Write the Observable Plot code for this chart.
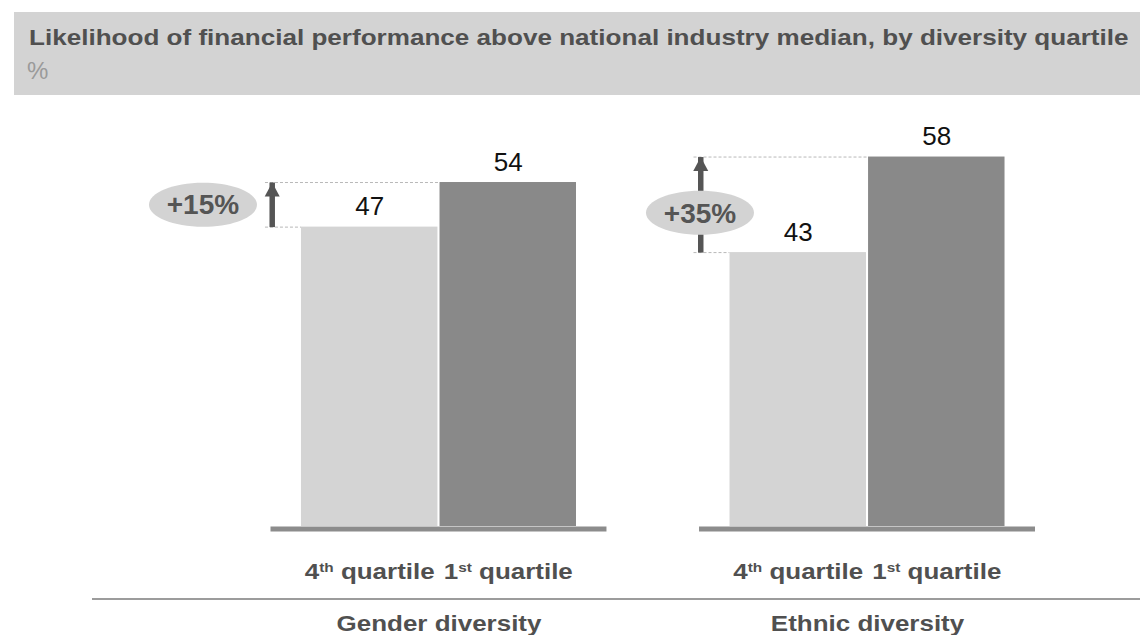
<!DOCTYPE html>
<html><head><meta charset="utf-8">
<script src="https://cdn.jsdelivr.net/npm/d3@7"></script>
<script src="https://cdn.jsdelivr.net/npm/@observablehq/plot@0.6"></script>
<style>
html,body{margin:0;padding:0;background:#fff;}
#wrap{position:relative;width:1140px;height:635px;overflow:hidden;font-family:"Liberation Sans",Arial,sans-serif;}
#titlebox{position:absolute;left:14px;top:12px;width:1126px;height:83px;background:#d3d3d3;}
.t1{position:absolute;left:28.5px;top:27.4px;font-size:22px;line-height:22px;font-weight:bold;color:#505050;white-space:nowrap;transform:scaleX(1.185);transform-origin:0 0;}
.t2{position:absolute;left:27px;top:58.7px;font-size:24px;line-height:24px;color:#9a9a9a;}
#sep{position:absolute;left:92px;top:598px;width:1048px;height:2px;background:#9c9c9c;}
#chart{position:absolute;left:0;top:100px;}
</style></head>
<body><div id="wrap">
<div id="titlebox"></div>
<div class="t1">Likelihood of financial performance above national industry median, by diversity quartile</div>
<div class="t2">%</div>
<div id="chart"></div>
<div id="sep"></div>
</div>
<script>
const groups = ["Gender diversity", "Ethnic diversity"];
const quartiles = ["4th quartile", "1st quartile"];
const genderValues = [47, 54];
const ethnicValues = [43, 58];

const seriesByGroup = [genderValues, ethnicValues];
const rows = groups.flatMap((g, gi) => quartiles.map((q, qi) => ({group: g, quartile: q, value: seriesByGroup[gi][qi]})));
const uplift = groups.map((g, gi) => {
  const [lo, hi] = seriesByGroup[gi];
  return {group: g, quartile: quartiles[0], lo, hi, mid: (lo + hi) / 2, label: d3.format("+.0%")(hi / lo - 1)};
});

const ellipse = {draw(ctx) {
  const rx = 54, ry = 22, kx = rx * 0.5523, ky = ry * 0.5523;
  ctx.moveTo(rx, 0);
  ctx.bezierCurveTo(rx, ky, kx, ry, 0, ry);
  ctx.bezierCurveTo(-kx, ry, -rx, ky, -rx, 0);
  ctx.bezierCurveTo(-rx, -ky, -kx, -ry, 0, -ry);
  ctx.bezierCurveTo(kx, -ry, rx, -ky, rx, 0);
  ctx.closePath();
}};
const head = {draw(ctx) {
  ctx.moveTo(0, 0); ctx.lineTo(7.5, 14); ctx.lineTo(-7.5, 14); ctx.closePath();
}};
const ARROW_DX = -97.5;
const first = uplift.filter(d => d.group === groups[0]);
const second = uplift.filter(d => d.group === groups[1]);
const dash = {stroke: "#b8b8b8", strokeDasharray: "3,2", strokeWidth: 1};

const svg = Plot.plot({
  width: 1140,
  height: 535,
  marginLeft: 270.5,
  marginRight: 105,
  marginTop: 43.8,
  marginBottom: 109,
  style: {fontFamily: "'Liberation Sans', Arial, sans-serif", background: "transparent", overflow: "visible"},
  fx: {domain: groups, paddingInner: 0.216, paddingOuter: 0, axis: null, round: false},
  x: {domain: quartiles, paddingInner: 0.015, paddingOuter: 0.22, axis: null, round: false},
  y: {domain: [0, 60], axis: null},
  color: {domain: quartiles, range: ["#d4d4d4", "#898989"]},
  marks: [
    Plot.ruleY(uplift, {fx: "group", y: "hi", x1: "quartile", x2: "quartile", insetLeft: -36, insetRight: -2, ...dash}),
    Plot.ruleY(uplift, {fx: "group", y: "lo", x1: "quartile", x2: "quartile", insetLeft: -36, insetRight: 136.5, ...dash}),
    Plot.barY(rows, {fx: "group", x: "quartile", y: "value", fill: "quartile"}),
    Plot.ruleY([0], {stroke: "#8c8c8c", strokeWidth: 5, dy: 2.5}),
    Plot.link(uplift, {fx: "group", x1: "quartile", x2: "quartile", y1: "lo", y2: "hi", dx: ARROW_DX, stroke: "#555", strokeWidth: 5.5}),
    Plot.dot(uplift, {fx: "group", x: "quartile", y: "hi", dx: ARROW_DX, symbol: head, fill: "#555", stroke: "none"}),
    Plot.dot(first, {fx: "group", x: "quartile", y: "mid", dx: -166.75, symbol: ellipse, fill: "#d3d3d3", stroke: "none"}),
    Plot.dot(second, {fx: "group", x: "quartile", y: "mid", dx: -98.25, dy: 8, symbol: ellipse, fill: "#d3d3d3", stroke: "none"}),
    Plot.text(first, {fx: "group", x: "quartile", y: "mid", dx: -166.75, dy: 0, text: "label", fontSize: 28, fontWeight: "bold", fill: "#555"}),
    Plot.text(second, {fx: "group", x: "quartile", y: "mid", dx: -98.25, dy: 9, text: "label", fontSize: 28, fontWeight: "bold", fill: "#555"}),
    Plot.text(rows, {fx: "group", x: "quartile", y: "value", text: "value", dy: -12, lineAnchor: "bottom", fontSize: 26, fill: "#111"}),
    Plot.text(rows, {fx: "group", x: "quartile", frameAnchor: "bottom", text: "quartile", dy: 52, lineAnchor: "bottom", fontSize: 22, fontWeight: "bold", fill: "#505050"}),
    Plot.text(groups, {fx: d => d, frameAnchor: "bottom", text: d => d, dy: 104, lineAnchor: "bottom", fontSize: 22, fontWeight: "bold", fill: "#505050"})
  ]
});
document.getElementById("chart").append(svg);

const supRe = /^(\d+)(st|nd|rd|th) (.+)$/;
d3.select(svg).selectAll("text").each(function() {
  const el = this;
  const s = el.textContent;
  const m = s.match(supRe);
  let stretch = false;
  if (m) {
    el.textContent = "";
    const sel = d3.select(el);
    sel.append("tspan").text(m[1]);
    sel.append("tspan").attr("font-size", 13).attr("dy", -7).text(m[2]);
    sel.append("tspan").attr("dy", 7).text(" " + m[3]);
    stretch = true;
  } else if (groups.includes(s)) {
    stretch = true;
  }
  if (stretch) {
    const L = el.getComputedTextLength();
    el.setAttribute("textLength", L * 1.18);
    el.setAttribute("lengthAdjust", "spacingAndGlyphs");
  }
});
</script>
</body></html>
